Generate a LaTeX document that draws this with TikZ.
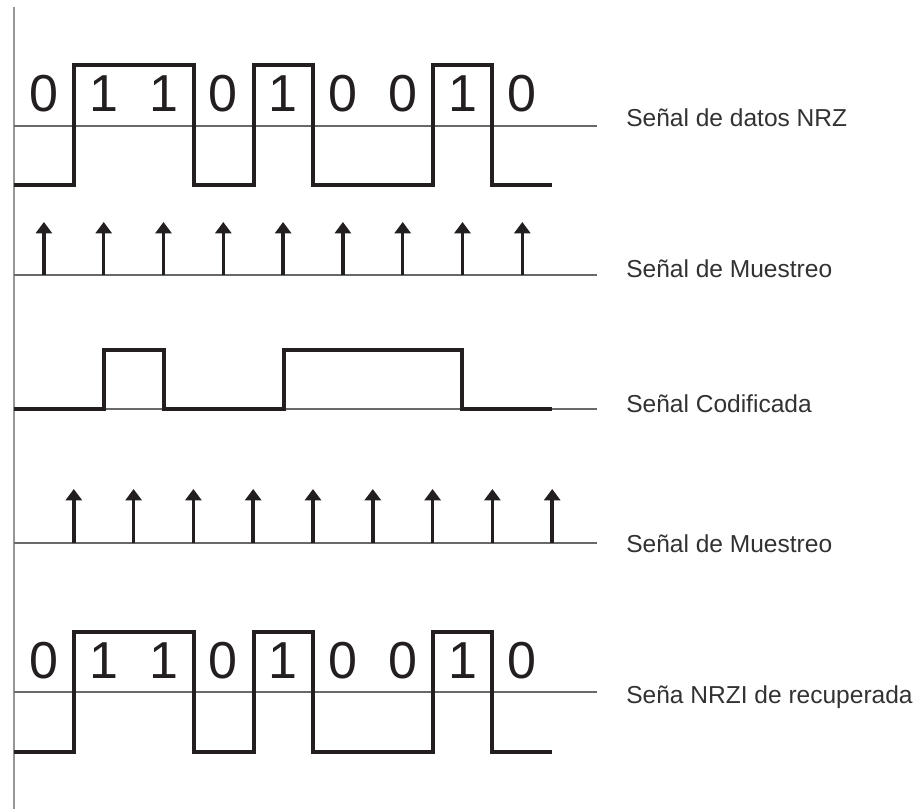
\documentclass[tikz,border=0pt]{standalone}
\usepackage{fontspec}
\setmainfont{Liberation Sans}
\usetikzlibrary{arrows.meta}
\definecolor{sigblack}{RGB}{35,31,32}
\definecolor{refgray}{RGB}{105,105,105}
\definecolor{axisgray}{RGB}{150,150,150}
\definecolor{labelgray}{RGB}{50,50,50}
\tikzset{
  wave/.style={draw=sigblack, line width=2.3pt, line join=miter},
  refline/.style={draw=refgray, line width=1.1pt},
  axisline/.style={draw=axisgray, line width=1.5pt},
  sample/.style={draw=sigblack, line width=2.6pt, -{Triangle[width=12pt,length=8.5pt]}},
  bit/.style={font=\fontsize{39}{39}\selectfont, text=sigblack, anchor=base, inner sep=0pt},
  siglabel/.style={font=\fontsize{18.4}{18.4}\selectfont, text=labelgray, anchor=base west, inner sep=0pt}
}

\begin{document}
\begin{tikzpicture}[x=0.75pt, y=-0.75pt]
    \useasboundingbox (0,0) rectangle (917,809);

    % eje vertical
    \draw[axisline] (14,7) -- (14,809);

    % datos NRZ
    \draw[refline] (14,126) -- (597,126);
    \draw[wave] (14,185) -| (74,65) -| (194,185) -| (254,65) -| (313,185) -| (433,65) -| (492,185) -- (552,185);
    \foreach \b [count=\i] in {0,1,1,0,1,0,0,1,0}
        \node[bit] (nrz\i) at ({14+59.8*(\i-0.5)},112) {\b};
    \node[siglabel] (lnrz) at (626,127) {Señal de datos NRZ};

    % muestreo 1
    \draw[refline] (14,275) -- (597,275);
    \foreach \i in {1,...,9}
        \draw[sample] ({14+59.8*(\i-0.5)},275) -- ({14+59.8*(\i-0.5)},222);
    \node[siglabel] (lmues1) at (626,277) {Señal de Muestreo};

    % codificada
    \draw[refline] (14,409) -- (597,409);
    \draw[wave] (14,409) -| (104,350) -| (164,409) -| (284,350) -| (462,409) -- (552,409);
    \node[siglabel] (lcod) at (626,412) {Señal Codificada};

    % muestreo 2
    \draw[refline] (14,543) -- (597,543);
    \foreach \i in {1,...,9}
        \draw[sample] ({14+59.8*\i},543) -- ({14+59.8*\i},489);
    \node[siglabel] (lmues2) at (626,552) {Señal de Muestreo};

    % recuperada
    \draw[refline] (14,692) -- (597,692);
    \draw[wave] (14,752) -| (74,632) -| (194,752) -| (254,632) -| (313,752) -| (433,632) -| (492,752) -- (552,752);
    \foreach \b [count=\i] in {0,1,1,0,1,0,0,1,0}
        \node[bit] (rec\i) at ({14+59.8*(\i-0.5)},678) {\b};
    \node[siglabel] (lrec) at (626,703) {Seña NRZI de recuperada};
\end{tikzpicture}
\end{document}
